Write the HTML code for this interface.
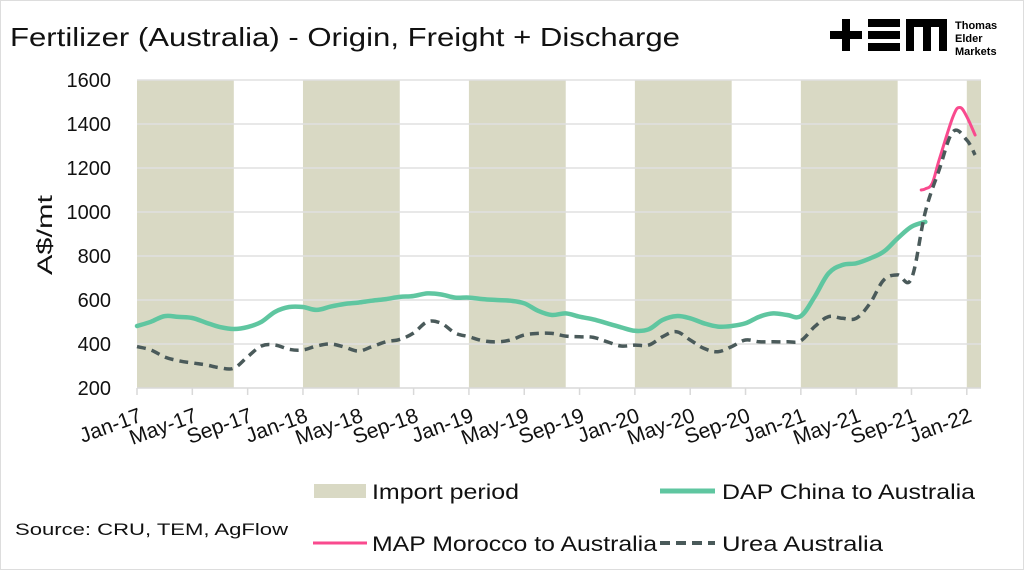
<!DOCTYPE html>
<html><head><meta charset="utf-8">
<style>
html,body{margin:0;padding:0;background:#fff;}
svg{display:block;font-family:"Liberation Sans",sans-serif;}
</style></head>
<body>
<svg id="chart" width="1024" height="570" viewBox="0 0 1024 570">
<rect x="0.5" y="0.5" width="1023" height="569" fill="#fff" stroke="#dddddd"/>
<text x="10" y="46" font-size="26" fill="#111" textLength="670" lengthAdjust="spacingAndGlyphs">Fertilizer (Australia) - Origin, Freight + Discharge</text>
<g fill="#000">
<rect x="830" y="31" width="32" height="8"/><rect x="842" y="19" width="8" height="32"/>
<rect x="868" y="19" width="32" height="8"/><rect x="868" y="31" width="32" height="8"/><rect x="868" y="43" width="32" height="8"/>
<path d="M906 19h41v32h-8v-24h-8v24h-8v-24h-9v24h-8z"/>
<text x="955" y="29" font-size="11" font-weight="bold">Thomas</text>
<text x="955" y="42" font-size="11" font-weight="bold">Elder</text>
<text x="955" y="55" font-size="11" font-weight="bold">Markets</text>
</g>
<g id="bands"></g><g id="grid"></g><g id="axes"></g><g id="series"></g>
<text transform="translate(52,235) rotate(-90)" text-anchor="middle" font-size="21" fill="#111" textLength="80" lengthAdjust="spacingAndGlyphs">A$/mt</text>
<g font-size="21" fill="#111">
<g><rect x="314" y="484" width="52" height="14" fill="#d9d9c4"/><text x="372" y="499" textLength="147" lengthAdjust="spacingAndGlyphs">Import period</text></g>
<g><line x1="660" y1="491" x2="715" y2="491" stroke="#5fc6a0" stroke-width="5"/><text x="722" y="499" textLength="253" lengthAdjust="spacingAndGlyphs">DAP China to Australia</text></g>
<g><line x1="313" y1="543" x2="367" y2="543" stroke="#f94a8e" stroke-width="3"/><text x="372" y="551" textLength="285" lengthAdjust="spacingAndGlyphs">MAP Morocco to Australia</text></g>
<g><line x1="660" y1="543" x2="715" y2="543" stroke="#4a5a5a" stroke-width="4" stroke-dasharray="10,6"/><text x="722" y="551" textLength="161" lengthAdjust="spacingAndGlyphs">Urea Australia</text></g>
</g>
<text x="15" y="535" font-size="17" fill="#111" textLength="273" lengthAdjust="spacingAndGlyphs">Source: CRU, TEM, AgFlow</text>
</svg>
<script>
const yTicks=[200,400,600,800,1000,1200,1400,1600];
const xTickLabels=["Jan-17","May-17","Sep-17","Jan-18","May-18","Sep-18","Jan-19","May-19","Sep-19","Jan-20","May-20","Sep-20","Jan-21","May-21","Sep-21","Jan-22"];
const importStartMonths=[0,12,24,36,48,60];
const importLengthMonths=7;
const dapValues=[482,501,527,523,518,497,477,468,477,501,547,568,568,555,570,582,588,597,604,614,618,630,625,611,611,604,600,597,585,551,532,539,524,512,494,476,460,467,509,527,517,494,479,482,494,524,539,532,527,615,721,759,767,789,820,880,933,955];
const ureaValues=[388,373,341,324,314,305,292,290,342,391,395,376,373,391,400,386,368,388,410,421,450,501,494,450,433,415,410,418,441,448,448,436,433,430,410,391,395,395,433,456,418,380,365,388,418,410,410,410,415,479,524,517,517,585,691,714,698,1000,1191,1365,1327,1259];
const ureaMonths=ureaValues.map((v,i)=>i===61?60.6:i);
const mapMonths=[56.7,57,57.5,58,59,59.5,60,60.6];
const mapValues=[1100,1105,1130,1236,1433,1475,1433,1350];

const X0=137,MW=13.83,XR=981,Y0=388,YT=80;
const x=m=>X0+m*MW;
const y=v=>Y0-(v-200)/1400*(Y0-YT);
const NS="http://www.w3.org/2000/svg";
function mk(tag,parent,attrs){const e=document.createElementNS(NS,tag);for(const k in attrs)e.setAttribute(k,attrs[k]);parent.appendChild(e);return e;}
const bands=document.getElementById('bands'),grid=document.getElementById('grid'),axes=document.getElementById('axes'),series=document.getElementById('series');
importStartMonths.forEach(s=>{
  const x1=x(s),x2=Math.min(x(s+importLengthMonths),XR);
  const r=mk('rect',bands,{x:x1,y:YT,width:x2-x1,height:Y0-YT,fill:'#d9d9c4'});
  
  
});
yTicks.forEach(t=>{
  if(t>200){const l=mk('line',grid,{x1:X0,x2:XR,y1:y(t),y2:y(t),stroke:'#e0e0e0','stroke-width':1.5});
  
  }
  const tx=mk('text',axes,{x:111,y:y(t)+7,'text-anchor':'end','font-size':20,fill:'#111'});
  tx.textContent=t;
  
  
});
const ax=mk('line',axes,{x1:X0,x2:XR,y1:Y0,y2:Y0,stroke:'#d9d9d9','stroke-width':1.5});


xTickLabels.forEach((lab,i)=>{
  const xx=x(i*4);
  const tk=mk('line',axes,{x1:xx,x2:xx,y1:Y0,y2:Y0+7,stroke:'#d9d9d9','stroke-width':1.5});
  
  
  const tx=mk('text',axes,{transform:`translate(${xx+6},${Y0+33}) rotate(-20)`,'text-anchor':'end','font-size':21,fill:'#111'});
  tx.textContent=lab;
  
  
});
function path(ms,vs){
  const p=vs.map((v,i)=>[x(ms[i]),y(v)]);
  let d='M'+p[0][0].toFixed(1)+' '+p[0][1].toFixed(1);
  for(let i=0;i<p.length-1;i++){
    const a=p[Math.max(i-1,0)],b=p[i],c=p[i+1],e=p[Math.min(i+2,p.length-1)];
    const t=0.18;
    const c1=[b[0]+(c[0]-a[0])*t,b[1]+(c[1]-a[1])*t],c2=[c[0]-(e[0]-b[0])*t,c[1]-(e[1]-b[1])*t];
    d+=` C${c1[0].toFixed(1)} ${c1[1].toFixed(1)} ${c2[0].toFixed(1)} ${c2[1].toFixed(1)} ${c[0].toFixed(1)} ${c[1].toFixed(1)}`;
  }
  return d;
}
const map=mk('path',series,{d:path(mapMonths,mapValues),fill:'none',stroke:'#f94a8e','stroke-width':3,'stroke-linejoin':'round','stroke-linecap':'round'});


const dap=mk('path',series,{d:path(dapValues.map((v,i)=>i),dapValues),fill:'none',stroke:'#5fc6a0','stroke-width':4.5,'stroke-linejoin':'round','stroke-linecap':'round'});


const urea=mk('path',series,{d:path(ureaMonths,ureaValues),fill:'none',stroke:'#4a5a5a','stroke-width':3.5,'stroke-dasharray':'9,6','stroke-linejoin':'round'});


</script>
</body></html>
